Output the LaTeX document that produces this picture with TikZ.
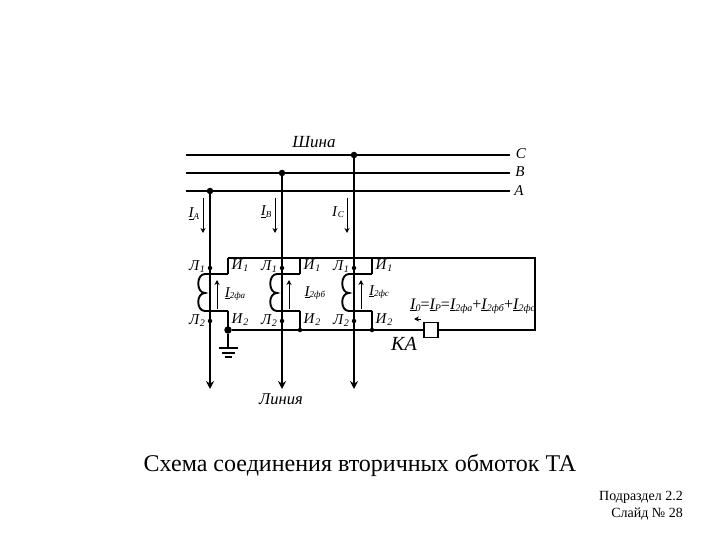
\documentclass[tikz,border=0pt]{standalone}
\usepackage{fontspec}
\setmainfont{Liberation Serif}
\usetikzlibrary{arrows.meta}
\newcommand{\lbl}[2]{\textit{#1}\raisebox{-0.3ex}{\fontsize{10}{10}\selectfont\textit{#2}}}
\newcommand{\cur}[2]{\textit{\underline{I}}\raisebox{-0.25ex}{\fontsize{#1}{#1}\selectfont\textit{#2}}}
\tikzset{
  wire/.style={line width=1.9pt,black},
  feed/.style={wire,-{Stealth[length=8pt,width=8pt]}},
  cur arrow/.style={line width=0.8pt,black,-{Stealth[length=5pt,width=5pt]}},
  bigdot/.style={circle,fill=black,inner sep=0pt,minimum size=6.5pt},
  smalldot/.style={circle,fill=black,inner sep=0pt,minimum size=4.5pt},
  tag/.style={inner sep=0pt,font=\fontsize{15}{15}\selectfont},
  kabox/.style={draw=black,line width=1.9pt,fill=white,minimum width=14pt,minimum height=15pt,inner sep=0pt},
}
\begin{document}
\begin{tikzpicture}[x=1pt,y=-1pt]
\useasboundingbox (0,0) rectangle (720,540);
% busbars
\foreach \n/\y in {C/155,B/173,A/191}{
  \coordinate (bus\n L) at (186,\y);
  \coordinate (bus\n R) at (510,\y);
  \draw[wire] (bus\n L) -- (bus\n R);
}
\node[tag] (tC) at (521,154) {\textit{C}};
\node[tag] (tB) at (520,172) {\textit{B}};
\node[tag] (tA) at (519,191) {\textit{A}};
\node[tag,font=\fontsize{17}{17}\selectfont] (shina) at (314,142) {\textit{Шина}};
% feeders
\node[bigdot] (dA) at (210,191) {};
\node[bigdot] (dB) at (282,173) {};
\node[bigdot] (dC) at (354,155) {};
\coordinate (endA) at (210,389);
\coordinate (endB) at (282,389);
\coordinate (endC) at (354,389);
\draw[feed] (dA) -- (endA);
\draw[feed] (dB) -- (endB);
\draw[feed] (dC) -- (endC);
% phase current arrows
\coordinate (iaT) at (203,198); \coordinate (iaB) at (203,233);
\coordinate (ibT) at (275,198); \coordinate (ibB) at (275,233);
\coordinate (icT) at (347,198); \coordinate (icB) at (347,233);
\draw[cur arrow] (iaT) -- (iaB);
\draw[cur arrow] (ibT) -- (ibB);
\draw[cur arrow] (icT) -- (icB);
\node[tag] (la) at (194,214) {\cur{9}{A}};
\node[tag] (lb) at (266,212) {\cur{9}{B}};
\node[tag] (lc) at (338,212) {\textit{I}\raisebox{-0.25ex}{\fontsize{9}{9}\selectfont\textit{C}}};
% secondary ring
\coordinate (ringTL) at (228,258);
\coordinate (ringTR) at (535,258);
\coordinate (ringBR) at (535,330);
\node[bigdot,minimum size=7.5pt] (star) at (228,330) {};
\draw[wire] (ringTL) -- (ringTR) -- (ringBR) -- (star);
\node[kabox] (ka) at (431,330) {};
\node[tag,font=\fontsize{20}{20}\selectfont] (kat) at (404,344) {\textit{КА}};
% transformers
\foreach \o/\s/\nm [count=\i] in {0/а/a,72/б/b,144/с/c}{
  \begin{scope}[xshift=\o pt]
    \coordinate (t\i a) at (228,274);
    \coordinate (t\i b) at (205,274);
    \coordinate (t\i m) at (205,293);
    \coordinate (t\i c) at (205,311);
    \coordinate (t\i d) at (228,311);
    \coordinate (t\i u) at (228,330);
    \coordinate (t\i e) at (228,258);
    \draw[wire] (t\i d) -- (t\i c)
       .. controls (196,311) and (196,293) .. (t\i m)
       .. controls (196,293) and (196,274) .. (t\i b) -- (t\i a);
    \draw[wire] (t\i a) -- (t\i e);
    \draw[wire] (t\i d) -- (t\i u);
    \node[smalldot] (p\i) at (210,268) {};
    \node[smalldot] (q\i) at (210,321) {};
    \coordinate (ar\i b) at (217,309);
    \coordinate (ar\i t) at (217,280);
    \draw[cur arrow] (ar\i b) -- (ar\i t);
    \node[tag] (L1\i) at (197,267) {\lbl{Л}{1}};
    \node[tag] (L2\i) at (197,321) {\lbl{Л}{2}};
    \node[tag] (I1\i) at (240,266) {\lbl{И}{1}};
    \node[tag] (I2\i) at (240,320) {\lbl{И}{2}};
  \end{scope}
}
\node[smalldot] (j2) at (300,330) {};
\node[smalldot] (j3) at (372,330) {};
\node[tag] (s1) at (235,294) {\cur{9}{2фа}};
\node[tag] (s2) at (315,293) {\cur{9}{2фб}};
\node[tag] (s3) at (379,292) {\cur{9}{2фс}};
% ground
\coordinate (g0) at (228,348);
\coordinate (g1a) at (219,348); \coordinate (g1b) at (238,348);
\coordinate (g2a) at (222,353); \coordinate (g2b) at (235,353);
\coordinate (g3a) at (225,357); \coordinate (g3b) at (232,357);
\draw[wire] (star) -- (g0);
\draw[wire] (g1a) -- (g1b);
\draw[wire] (g2a) -- (g2b);
\draw[wire] (g3a) -- (g3b);
% resulting current
\coordinate (kaT) at (421,319);
\coordinate (kaH) at (414,319);
\draw[cur arrow] (kaT) -- (kaH);
\node[tag,anchor=west,font=\fontsize{16}{16}\selectfont] (form) at (410,306) {\cur{10}{0}=\cur{10}{Р}=\cur{10}{2фа}+\cur{10}{2фб}+\cur{10}{2фс}};
\node[tag,font=\fontsize{16.5}{16.5}\selectfont] (line) at (281,399) {\textit{Линия}};
% captions
\node[inner sep=0pt,font=\fontsize{24}{24}\selectfont] (cap) at (360,465) {Схема соединения вторичных обмоток ТА};
\node[inner sep=0pt,anchor=east,font=\fontsize{14}{14}\selectfont] (c1) at (683,497) {Подраздел 2.2};
\node[inner sep=0pt,anchor=east,font=\fontsize{14}{14}\selectfont] (c2) at (683,514) {Слайд № 28};
\end{tikzpicture}
\end{document}
